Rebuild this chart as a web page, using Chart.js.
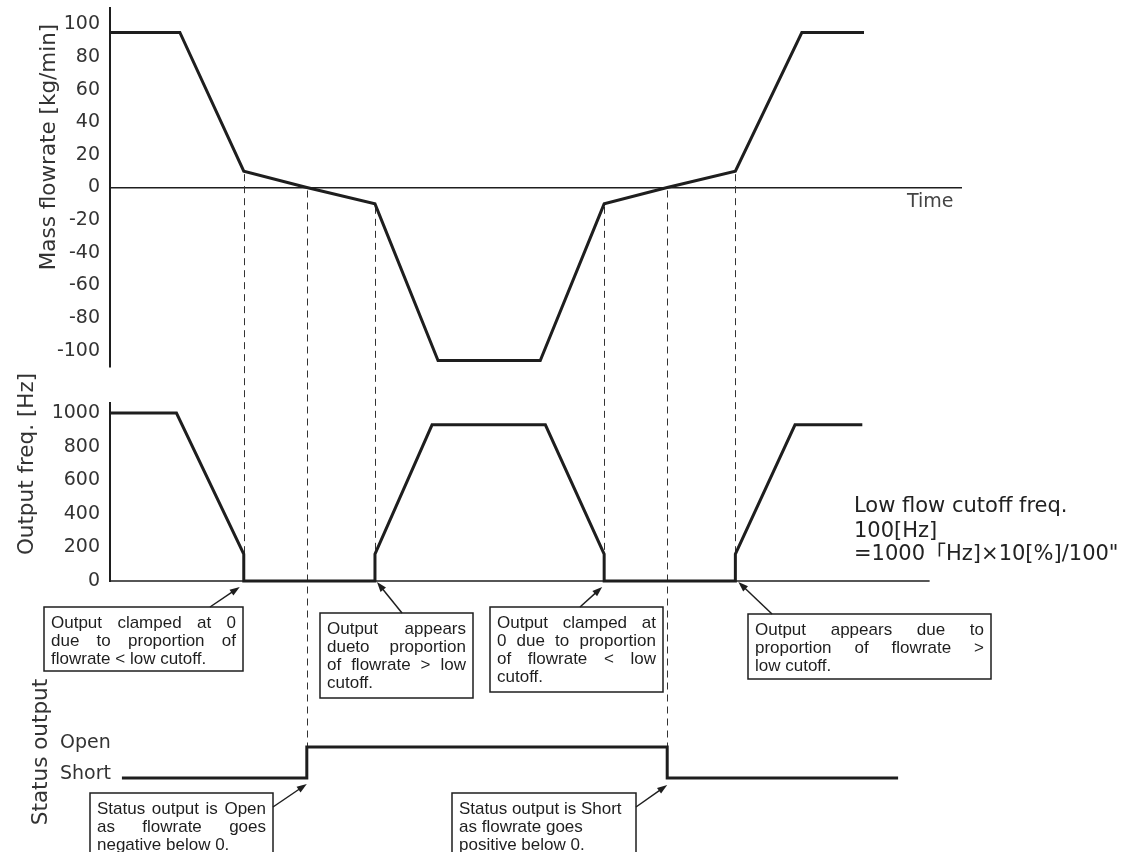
<!DOCTYPE html>
<html>
<head>
<meta charset="utf-8">
<title>Low flow cutoff - timing chart</title>
<script src="https://cdn.jsdelivr.net/npm/chart.js@4.4.1/dist/chart.umd.min.js"></script>
<style>
    html, body { margin: 0; padding: 0; background: #fff; }
    #wrap { width: 1126px; height: 852px; overflow: hidden; }
</style>
</head>
<body>
<div id="wrap"><canvas id="chartCutoff" width="1126" height="852"></canvas></div>
<script>
// ========================================================================
// DATA
// ========================================================================
const flowTimes  = [0, 8.2, 15.7, 23.1, 31.1, 38.5, 50.5, 58.0, 65.4, 73.4, 81.2, 88.5];
const flowValues = [95, 95, 10, 0, -10, -106, -106, -10, 0, 10, 95, 95];

const freqTimes  = [0, 7.8, 15.7, 15.7, 31.1, 31.1, 37.8, 51.1, 58.0, 58.0, 73.4, 73.4, 80.4, 88.3];
const freqValues = [1000, 1000, 160, 0, 0, 160, 930, 930, 160, 0, 0, 160, 930, 930];

const statusTimes  = [1.4, 23.1, 23.1, 65.4, 65.4, 92.5];
const statusValues = [0, 0, 1, 1, 0, 0];
const statusLabels = ['Short', 'Open'];

const flowTicks = [-100, -80, -60, -40, -20, 0, 20, 40, 60, 80, 100];
const freqTicks = [0, 200, 400, 600, 800, 1000];

const freqAxisEnd = 96.2;   // where the freq. baseline stops (time units)

// dashed guides: time, and the level where each one stops
const guideTimes     = [15.7, 23.1, 31.1, 58.0, 65.4, 73.4];
const guideStopAxis  = ['yFreq', 'yStatus', 'yFreq', 'yFreq', 'yStatus', 'yFreq'];
const guideStopValue = [160, 1, 160, 160, 1, 160];

// ========================================================================
// STYLE / LAYOUT
// ========================================================================
const INK = '#1e1e1e';
const FONT = "'DejaVu Sans', 'Noto Sans CJK JP', sans-serif";
const BOX_FONT = "'Liberation Sans', Arial, sans-serif";

// bands of the three panels (pixels); left/right = room for tick labels
const panels = {
    yFlow:   { top: 8,     bottom: 367,   left: 0,  right: 110 },
    yFreq:   { top: 403,   bottom: 581,   left: 0,  right: 110 },
    yStatus: { top: 731.5, bottom: 793.5, left: 60, right: 130 }
};

const notes = [
    { text: ['Output clamped at 0', 'due to proportion of', 'flowrate < low cutoff.'],
      box: [44, 607, 199, 64], justify: 2, from: [210, 607],
      tip: { t: 15.7, axis: 'yFreq', v: 0, dx: -4, dy: 6 } },
    { text: ['Output appears', 'dueto proportion', 'of flowrate > low', 'cutoff.'],
      box: [320, 613, 153, 85], justify: 3, from: [402, 613],
      tip: { t: 31.1, axis: 'yFreq', v: 0, dx: 2, dy: 1 } },
    { text: ['Output clamped at', '0 due to proportion', 'of flowrate < low', 'cutoff.'],
      box: [490, 607, 173, 85], justify: 3, from: [580, 607],
      tip: { t: 58.0, axis: 'yFreq', v: 0, dx: -2, dy: 6 } },
    { text: ['Output appears due to', 'proportion of flowrate >', 'low cutoff.'],
      box: [748, 614, 243, 65], justify: 2, from: [772, 614],
      tip: { t: 73.4, axis: 'yFreq', v: 0, dx: 3, dy: 1 } },
    { text: ['Status output is Open', 'as flowrate goes', 'negative below 0.'],
      box: [90, 793, 183, 72], justify: 2, from: [273, 807],
      tip: { t: 23.1, axis: 'yStatus', v: 0, dx: 0, dy: 6 } },
    { text: ['Status output is Short', 'as flowrate goes', 'positive below 0.'],
      box: [452, 793, 184, 72], justify: 0, from: [636, 807],
      tip: { t: 65.4, axis: 'yStatus', v: 0, dx: 0, dy: 7 } }
];

const toPoints = (times, values) => times.map((t, i) => ({ x: t, y: values[i] }));

// ========================================================================
// PLUGINS
// ========================================================================

// put each y axis into its own band, one above the other
const panelLayout = {
    id: 'panelLayout',
    afterLayout(chart) {
        Object.keys(panels).forEach(id => {
            const s = chart.scales[id];
            const p = panels[id];
            s.top = p.top;
            s.bottom = p.bottom;
            s.height = p.bottom - p.top;
            s.left = p.left;
            s.right = p.right;
            s.width = p.right - p.left;
            s.configure();
        });
    }
};

const guideLines = {
    id: 'guideLines',
    beforeDatasetsDraw(chart) {
        const { ctx, scales } = chart;
        ctx.save();
        ctx.strokeStyle = '#333';
        ctx.lineWidth = 1;
        ctx.setLineDash([7, 5]);
        guideTimes.forEach((t, i) => {
            const x = Math.round(scales.x.getPixelForValue(t)) + 0.5;
            const y1 = scales.yFlow.getPixelForValue(flowValues[flowTimes.indexOf(t)]);
            const y2 = scales[guideStopAxis[i]].getPixelForValue(guideStopValue[i]);
            ctx.beginPath();
            ctx.moveTo(x, y1 + 3);
            ctx.lineTo(x, y2);
            ctx.stroke();
        });
        ctx.restore();
    }
};

function drawArrow(ctx, x1, y1, x2, y2) {
    const a = Math.atan2(y2 - y1, x2 - x1);
    const head = 10, half = 3.5;
    ctx.beginPath();
    ctx.moveTo(x1, y1);
    ctx.lineTo(x2 - Math.cos(a) * head * 0.8, y2 - Math.sin(a) * head * 0.8);
    ctx.stroke();
    ctx.beginPath();
    ctx.moveTo(x2, y2);
    ctx.lineTo(x2 - head * Math.cos(a) + half * Math.sin(a), y2 - head * Math.sin(a) - half * Math.cos(a));
    ctx.lineTo(x2 - head * Math.cos(a) - half * Math.sin(a), y2 - head * Math.sin(a) + half * Math.cos(a));
    ctx.closePath();
    ctx.fill();
}

function drawLine(ctx, line, x, y, width, justify) {
    const words = line.split(' ');
    if (!justify || words.length < 2) {
        ctx.fillText(line, x, y);
        return;
    }
    const wordsW = words.reduce((sum, w) => sum + ctx.measureText(w).width, 0);
    const gap = (width - wordsW) / (words.length - 1);
    let cx = x;
    words.forEach(w => {
        ctx.fillText(w, cx, y);
        cx += ctx.measureText(w).width + gap;
    });
}

function drawVertical(ctx, text, x, y, size) {
    ctx.save();
    ctx.translate(x, y);
    ctx.rotate(-Math.PI / 2);
    ctx.font = size + 'px ' + FONT;
    ctx.textAlign = 'center';
    ctx.textBaseline = 'alphabetic';
    ctx.fillText(text, 0, 0);
    ctx.restore();
}

const annotations = {
    id: 'annotations',
    afterDraw(chart) {
        const { ctx, scales } = chart;
        ctx.save();

        // axis titles
        ctx.fillStyle = '#333';
        drawVertical(ctx, 'Mass flowrate [kg/min]', 55, 147, 21.5);
        drawVertical(ctx, 'Output freq. [Hz]', 33, 464, 21.5);
        drawVertical(ctx, 'Status output', 47, 752, 21.5);

        // time label under the zero line
        ctx.font = '19px ' + FONT;
        ctx.fillStyle = '#444';
        ctx.textAlign = 'left';
        ctx.textBaseline = 'middle';
        ctx.fillText('Time', 907, 202);

        // cutoff note on the right
        ctx.fillStyle = '#222';
        ctx.font = '21px ' + FONT;
        ctx.fillText('Low flow cutoff freq.', 854, 507);
        ctx.fillText('100[Hz]', 854, 532);
        ctx.fillText('=1000\u300CHz]\u00D710[%]/100"', 854, 555);

        // callout boxes + arrows
        ctx.strokeStyle = INK;
        ctx.lineWidth = 1.5;
        notes.forEach(n => {
            const [bx, by, bw, bh] = n.box;
            ctx.fillStyle = '#fff';
            ctx.fillRect(bx, by, bw, bh);
            ctx.strokeRect(bx, by, bw, bh);

            ctx.fillStyle = INK;
            ctx.font = '17px ' + BOX_FONT;
            ctx.textAlign = 'left';
            ctx.textBaseline = 'middle';
            n.text.forEach((line, i) => {
                drawLine(ctx, line, bx + 7, by + 16 + i * 18, bw - 14, i < n.justify);
            });

            const tx = scales.x.getPixelForValue(n.tip.t) + n.tip.dx;
            const ty = scales[n.tip.axis].getPixelForValue(n.tip.v) + n.tip.dy;
            drawArrow(ctx, n.from[0], n.from[1], tx, ty);
        });

        ctx.restore();
    }
};

// ========================================================================
// CHART
// ========================================================================
Chart.defaults.font.family = FONT;
Chart.defaults.color = '#333';

const lineStyle = {
    borderColor: INK,
    backgroundColor: INK,
    borderWidth: 3,
    pointRadius: 0,
    tension: 0,
    fill: false,
    clip: false,
    borderJoinStyle: 'miter',
    borderCapStyle: 'butt'
};

new Chart(document.getElementById('chartCutoff'), {
    type: 'line',
    data: {
        datasets: [
            Object.assign({ label: 'Mass flowrate', yAxisID: 'yFlow',
                data: toPoints(flowTimes, flowValues) }, lineStyle),
            Object.assign({}, lineStyle, { label: 'Freq axis', yAxisID: 'yFreq', borderWidth: 1.5,
                data: toPoints([0, freqAxisEnd], [0, 0]) }),
            Object.assign({ label: 'Output freq', yAxisID: 'yFreq',
                data: toPoints(freqTimes, freqValues) }, lineStyle),
            Object.assign({ label: 'Status output', yAxisID: 'yStatus',
                data: toPoints(statusTimes, statusValues) }, lineStyle)
        ]
    },
    options: {
        responsive: false,
        animation: false,
        events: [],
        layout: { padding: { left: 110, right: 164, top: 0, bottom: 0 } },
        plugins: {
            legend: { display: false },
            tooltip: { enabled: false }
        },
        scales: {
            x: { type: 'linear', min: 0, max: 100, display: false },
            yFlow: {
                type: 'linear',
                position: 'left',
                min: -110,
                max: 110,
                afterFit: s => { s.width = 0; },
                afterBuildTicks: s => { s.ticks = flowTicks.map(v => ({ value: v })); },
                grid: {
                    drawTicks: false,
                    lineWidth: 1.5,
                    color: c => (c.tick && c.tick.value === 0) ? INK : 'rgba(0,0,0,0)'
                },
                border: { display: true, color: INK, width: 2 },
                ticks: { padding: 10, color: '#333', font: { size: 19 }, autoSkip: false,
                         callback: v => String(v) }
            },
            yFreq: {
                type: 'linear',
                position: 'left',
                min: 0,
                max: 1060,
                afterFit: s => { s.width = 0; },
                afterBuildTicks: s => { s.ticks = freqTicks.map(v => ({ value: v })); },
                grid: { display: false, drawTicks: false },
                border: { display: true, color: INK, width: 2 },
                ticks: { padding: 10, color: '#333', font: { size: 19 }, autoSkip: false,
                         callback: v => String(v) }
            },
            yStatus: {
                type: 'linear',
                position: 'left',
                min: -0.5,
                max: 1.5,
                afterFit: s => { s.width = 0; },
                afterBuildTicks: s => { s.ticks = statusLabels.map((l, i) => ({ value: i })); },
                grid: { display: false, drawTicks: false },
                border: { display: false },
                ticks: {
                    padding: 0,
                    crossAlign: 'far',
                    labelOffset: -4,
                    color: '#333',
                    font: { size: 19 },
                    autoSkip: false,
                    callback: v => statusLabels[v]
                }
            }
        }
    },
    plugins: [panelLayout, guideLines, annotations]
});
</script>
</body>
</html>
